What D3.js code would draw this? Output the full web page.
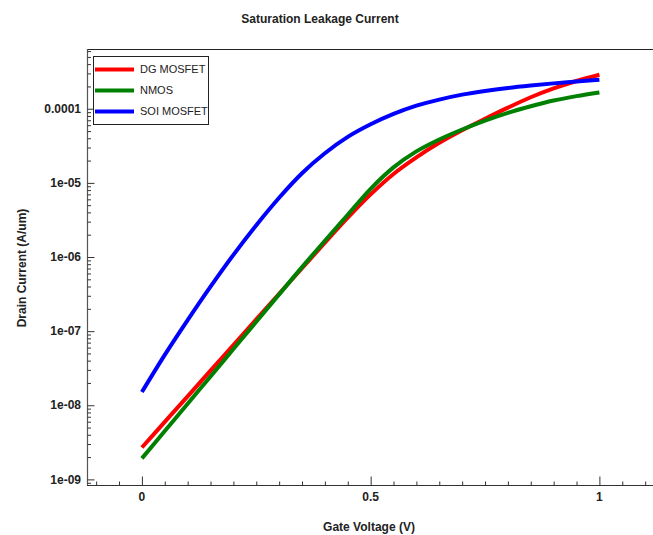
<!DOCTYPE html>
<html><head><meta charset="utf-8">
<script src="https://cdn.jsdelivr.net/npm/d3@7/dist/d3.min.js"></script>
<style>body{margin:0;background:#fff}svg{display:block}text{font-family:"Liberation Sans",Arial,sans-serif}</style>
</head><body>
<svg id="c" width="653" height="535"></svg>
<script>
const gateVoltage = [0,0.05,0.1,0.15,0.2,0.25,0.3,0.35,0.4,0.45,0.5,0.55,0.6,0.65,0.7,0.75,0.8,0.85,0.9,0.95,1.0];
const dgMosfet = [2.69e-9,5.97e-9,1.32e-8,2.93e-8,6.49e-8,1.44e-7,3.19e-7,7.06e-7,1.56e-6,3.39e-6,7.00e-6,1.32e-5,2.21e-5,3.47e-5,5.13e-5,7.33e-5,1.035e-4,1.43e-4,1.88e-4,2.37e-4,2.88e-4];
const nmos = [1.92e-9,4.49e-9,1.05e-8,2.45e-8,5.73e-8,1.34e-7,3.13e-7,7.30e-7,1.66e-6,3.72e-6,8.32e-6,1.62e-5,2.66e-5,3.85e-5,5.25e-5,6.92e-5,8.81e-5,1.08e-4,1.29e-4,1.48e-4,1.66e-4];
const soiMosfet = [1.51e-8,4.79e-8,1.41e-7,3.98e-7,1.07e-6,2.69e-6,6.31e-6,1.35e-5,2.51e-5,4.17e-5,6.17e-5,8.51e-5,1.10e-4,1.33e-4,1.55e-4,1.74e-4,1.91e-4,2.06e-4,2.20e-4,2.33e-4,2.47e-4];
const seriesNames = ["DG MOSFET","NMOS","SOI MOSFET"];
const seriesColors = ["#ff0000","#008000","#0000ff"];
const xTickValues = [0,0.5,1];
const xTickLabels = ["0","0.5","1"];
const yTickValues = [1e-9,1e-8,1e-7,1e-6,1e-5,1e-4];
const yTickLabels = ["1e-09","1e-08","1e-07","1e-06","1e-05","0.0001"];
const title = "Saturation Leakage Current";
const xTitle = "Gate Voltage (V)";
const yTitle = "Drain Current (A/um)";

const svg = d3.select("#c");
const L = 87, T = 49, B = 485, R = 654.3;
const x = d3.scaleLinear().domain([-0.12, 1.12]).range([L, R]);
const y = d3.scaleLog().domain([8.4e-10, 6.4e-4]).range([B, T]);

// curves
const allSeries = [dgMosfet, nmos, soiMosfet];
const line = d3.line().x(d => x(d[0])).y(d => y(d[1])).curve(d3.curveCatmullRom.alpha(0.5));
const plot = svg.append("g");
allSeries.forEach((s, i) => {
  plot.append("path")
    .datum(gateVoltage.map((v, j) => [v, s[j]]))
    .attr("fill", "none").attr("stroke", seriesColors[i])
    .attr("stroke-width", 4).attr("stroke-linejoin", "round")
    .attr("d", line);
});

// frame
svg.append("line").attr("x1", L).attr("x2", 653).attr("y1", T + 0.5).attr("y2", T + 0.5).attr("stroke", "#222").attr("stroke-width", 1.2);
svg.append("line").attr("x1", L + 0.5).attr("x2", L + 0.5).attr("y1", T).attr("y2", B).attr("stroke", "#555").attr("stroke-width", 1.2);
svg.append("line").attr("x1", L).attr("x2", 653).attr("y1", B + 0.5).attr("y2", B + 0.5).attr("stroke", "#333").attr("stroke-width", 1.2);

// x ticks
const xAxis = d3.axisTop(x).tickValues(xTickValues).tickSize(9).tickFormat("");
const gx = svg.append("g").attr("transform", `translate(0,${B + 0.5})`).call(xAxis);
gx.select(".domain").remove();
gx.selectAll("line").attr("stroke", "#333");
const minorX = d3.range(-0.10, 1.121, 0.05).filter(v => Math.abs(v * 2 - Math.round(v * 2)) > 1e-6);
const gxm = svg.append("g").attr("transform", `translate(0,${B + 0.5})`).call(d3.axisTop(x).tickValues(minorX).tickSize(4).tickFormat(""));
gxm.select(".domain").remove();
gxm.selectAll("line").attr("stroke", "#333");
svg.append("g").selectAll("text").data(xTickValues).join("text")
  .attr("x", d => x(d)).attr("y", 501).attr("text-anchor", "middle")
  .attr("font-size", 12).attr("font-weight", "bold").attr("fill", "#222")
  .text((d, i) => xTickLabels[i]);

// y ticks
const gy = svg.append("g").attr("transform", `translate(${L + 0.5},0)`).call(d3.axisRight(y).tickValues(yTickValues).tickSize(7).tickFormat(""));
gy.select(".domain").remove();
gy.selectAll("line").attr("stroke", "#333");
const minorY = [];
for (let e = -10; e <= -4; e++) for (let k = 2; k <= 9; k++) { const v = k * Math.pow(10, e); if (v > 8.4e-10 && v < 6.4e-4) minorY.push(v); }
const gym = svg.append("g").attr("transform", `translate(${L + 0.5},0)`).call(d3.axisRight(y).tickValues(minorY).tickSize(3.5).tickFormat(""));
gym.select(".domain").remove();
gym.selectAll("line").attr("stroke", "#333");
svg.append("g").selectAll("text").data(yTickValues).join("text")
  .attr("x", 81).attr("y", d => y(d)).attr("dy", "0.35em").attr("text-anchor", "end")
  .attr("font-size", 12).attr("font-weight", "bold").attr("fill", "#222")
  .text((d, i) => yTickLabels[i]);

// titles
svg.append("text").attr("x", 320).attr("y", 23).attr("text-anchor", "middle").attr("font-size", 12).attr("font-weight", "bold").attr("fill", "#222").text(title);
svg.append("text").attr("x", 369).attr("y", 531).attr("text-anchor", "middle").attr("font-size", 12).attr("font-weight", "bold").attr("fill", "#222").text(xTitle);
svg.append("text").attr("transform", "translate(26,268) rotate(-90)").attr("text-anchor", "middle").attr("font-size", 12).attr("font-weight", "bold").attr("fill", "#222").text(yTitle);

// legend
const lg = svg.append("g");
lg.append("rect").attr("x", 93.5).attr("y", 56.5).attr("width", 115).attr("height", 68).attr("fill", "#fff").attr("stroke", "#222").attr("stroke-width", 1);
const legY = [69.5, 90.5, 111.5];
seriesNames.forEach((n, i) => {
  lg.append("line").attr("x1", 95).attr("x2", 134).attr("y1", legY[i]).attr("y2", legY[i]).attr("stroke", seriesColors[i]).attr("stroke-width", 4);
  lg.append("text").attr("x", 140).attr("y", legY[i]).attr("dy", "0.35em").attr("font-size", 11).attr("fill", "#222").text(n);
});
</script>
</body></html>
